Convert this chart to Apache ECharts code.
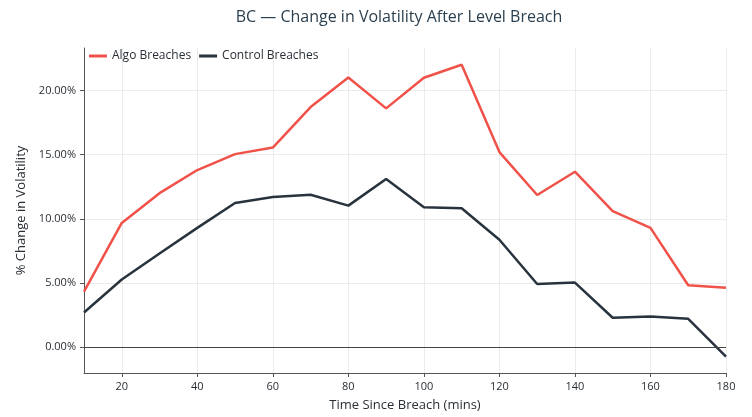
<!DOCTYPE html>
<html><head><meta charset="utf-8">
<script src="https://cdn.jsdelivr.net/npm/echarts@6/dist/echarts.min.js"></script>
<style>html,body{margin:0;padding:0;background:#fff}#c{width:752px;height:417px}</style>
</head><body><div id="c"></div>
<script>
const minutes = [10,20,30,40,50,60,70,80,90,100,110,120,130,140,150,160,170,180];
const algoBreaches = [4.34,9.68,12.0,13.8,15.04,15.55,18.7,21.0,18.6,20.98,22.0,15.2,11.86,13.67,10.6,9.3,4.83,4.63];
const controlBreaches = [2.71,5.28,7.3,9.3,11.24,11.7,11.88,11.03,13.1,10.9,10.83,8.37,4.93,5.04,2.3,2.4,2.22,-0.72];
const xTicks = [20,40,60,80,100,120,140,160,180];
const yTicks = [0,5,10,15,20];

const font = 'Open Sans, Noto Sans, sans-serif';
const txt = '#2a2f36';
const chart = echarts.init(document.getElementById('c'), null, {renderer:'canvas'});
chart.setOption({
  animation:false,
  backgroundColor:'#fff',
  title:{text:'BC — Change in Volatility After Level Breach', left:394, textAlign:'center', top:4,
    textStyle:{fontFamily:font, fontWeight:'normal', fontSize:16, color:'#2a3f4f'}},
  legend:{left:84, top:45, itemWidth:18, itemHeight:3, itemGap:8, icon:'rect',
    textStyle:{fontFamily:font, fontSize:12, color:txt},
    data:['Algo Breaches','Control Breaches']},
  grid:{left:84, right:26, top:48, bottom:42},
  xAxis:{type:'value', min:10, max:180,
    name:'Time Since Breach (mins)', nameLocation:'middle', nameGap:26,
    nameTextStyle:{fontFamily:font, fontSize:13, color:txt},
    axisLine:{show:true, onZero:false, lineStyle:{color:'#555', width:1}},
    axisTick:{show:true, length:4, customValues:xTicks, lineStyle:{color:'#555'}},
    axisLabel:{customValues:xTicks, fontFamily:font, fontSize:11, color:txt, margin:8},
    splitLine:{show:true, lineStyle:{color:'#ebebeb', width:1}}},
  yAxis:{type:'value', min:-2, max:23.3,
    name:'% Change in Volatility', nameLocation:'middle', nameGap:53, nameRotate:90,
    nameTextStyle:{fontFamily:font, fontSize:13, color:txt},
    axisLine:{show:true, onZero:false, lineStyle:{color:'#555', width:1}},
    axisTick:{show:true, length:4, customValues:yTicks, lineStyle:{color:'#555'}},
    axisLabel:{customValues:yTicks, fontFamily:font, fontSize:11, color:txt, margin:8,
      formatter:v=>v.toFixed(2)+'%'},
    splitLine:{show:true, lineStyle:{color:'#ebebeb', width:1}}},
  series:[
    {name:'Algo Breaches', type:'line', data:minutes.map((m,i)=>[m,algoBreaches[i]]),
      showSymbol:false, symbol:'none', color:'#F0524A', lineStyle:{width:2.5, color:'#F0524A'}, z:3,
      markLine:{silent:true, symbol:'none', label:{show:false}, lineStyle:{color:'#444', width:1, type:'solid'},
        data:[{yAxis:0}]}},
    {name:'Control Breaches', type:'line', data:minutes.map((m,i)=>[m,controlBreaches[i]]),
      showSymbol:false, symbol:'none', color:'#28333e', lineStyle:{width:2.5, color:'#28333e'}, z:4}
  ]
});
</script></body></html>
